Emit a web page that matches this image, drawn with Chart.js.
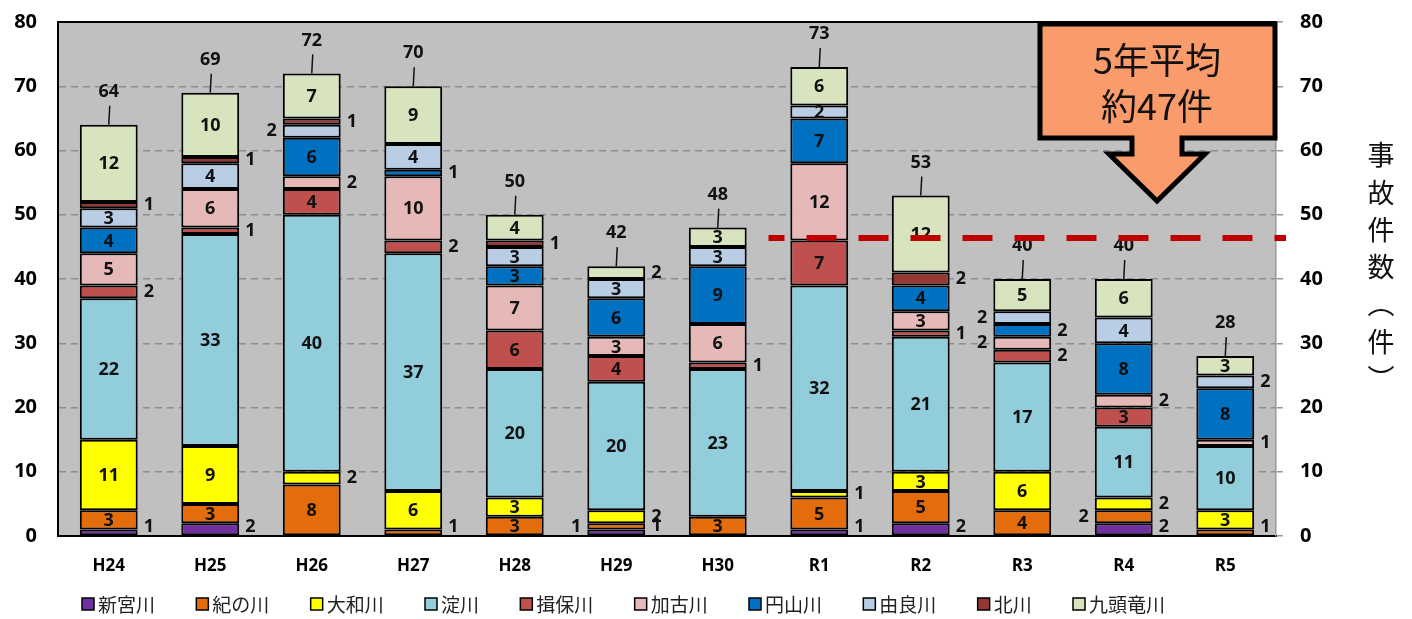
<!DOCTYPE html>
<html lang="ja">
<head>
<meta charset="utf-8">
<title>事故件数</title>
<script src="https://cdn.jsdelivr.net/npm/chart.js@4.4.1/dist/chart.umd.min.js"></script>
<style>
  html, body { margin: 0; padding: 0; background: #fff; }
  #wrap { width: 1412px; height: 619px; position: relative; }
</style>
</head>
<body>
<div id="wrap"><canvas id="accidentChart"></canvas></div>
<script>
// Anni (categorie)
const categories = ['H24', 'H25', 'H26', 'H27', 'H28', 'H29', 'H30', 'R1', 'R2', 'R3', 'R4', 'R5'];

// Valori per fiume (dal basso verso l'alto)
const shingu   = [1, 2, 0, 0, 0, 1, 0, 1, 2, 0, 2, 0];
const kinokawa = [3, 3, 8, 1, 3, 1, 3, 5, 5, 4, 2, 1];
const yamato   = [11, 9, 2, 6, 3, 2, 0, 1, 3, 6, 2, 3];
const yodo     = [22, 33, 40, 37, 20, 20, 23, 32, 21, 17, 11, 10];
const ibo      = [2, 1, 4, 2, 6, 4, 1, 7, 1, 2, 3, 0];
const kako     = [5, 6, 2, 10, 7, 3, 6, 12, 3, 2, 2, 1];
const maruyama = [4, 0, 6, 1, 3, 6, 9, 7, 4, 2, 8, 8];
const yura     = [3, 4, 2, 4, 3, 3, 3, 2, 0, 2, 4, 2];
const kita     = [1, 1, 1, 0, 1, 0, 0, 0, 2, 0, 0, 0];
const kuzuryu  = [12, 10, 7, 9, 4, 2, 3, 6, 12, 5, 6, 3];

// Totali sopra le barre
const totals = [64, 69, 72, 70, 50, 42, 48, 73, 53, 40, 40, 28];

// Media degli ultimi 5 anni (linea rossa)
const avgValue = 46.4;
const avgText = ['5年平均', '約47件'];

// Assi
const yTicks = [0, 10, 20, 30, 40, 50, 60, 70, 80];
const axisTitle = ['事', '故', '件', '数', '︵', '件', '︶'];

// Etichette piccole messe a sinistra / dentro la barra: [categoria, serie]
const leftLabels = [[2, 7], [5, 0], [9, 5], [9, 7], [10, 1]];
const insideLabels = [[7, 7]];

const series = [
  { name: '新宮川', values: shingu, color: '#7030a0' },
  { name: '紀の川', values: kinokawa, color: '#e46c0a' },
  { name: '大和川', values: yamato, color: '#ffff00' },
  { name: '淀川', values: yodo, color: '#92cddc' },
  { name: '揖保川', values: ibo, color: '#c0504d' },
  { name: '加古川', values: kako, color: '#e6b9b8' },
  { name: '円山川', values: maruyama, color: '#0070c0' },
  { name: '由良川', values: yura, color: '#b9cde5' },
  { name: '北川', values: kita, color: '#953735' },
  { name: '九頭竜川', values: kuzuryu, color: '#d7e4bd' }
];

const NUM_FONT = '"Open Sans", "Liberation Sans", sans-serif';
const JP_FONT = '"Noto Sans CJK JP", sans-serif';

function inList(list, c, d) {
  return list.some(p => p[0] === c && p[1] === d);
}

// niente spazio extra sopra/sotto per gli assi verticali
function fitVertical(width) {
  return (s) => {
    s.width = width;
    s.paddingTop = 0;
    s.paddingBottom = 0;
  };
}

// Sfondo grigio dell'area del grafico + bordo superiore
const areaBg = {
  id: 'areaBg',
  beforeDraw(chart) {
    const a = chart.chartArea, ctx = chart.ctx;
    ctx.save();
    ctx.fillStyle = '#c0c0c0';
    ctx.fillRect(a.left, a.top, a.right - a.left, a.bottom - a.top);
    ctx.restore();
  },
  beforeDatasetsDraw(chart) {
    const a = chart.chartArea, ctx = chart.ctx;
    ctx.save();
    ctx.strokeStyle = '#000';
    ctx.lineWidth = 2;
    ctx.beginPath();
    ctx.moveTo(a.left, a.top);
    ctx.lineTo(a.right, a.top);
    ctx.stroke();
    ctx.restore();
  }
};

// Etichette dei valori e totali
const segLabels = {
  id: 'segLabels',
  afterDatasetsDraw(chart) {
    const ctx = chart.ctx, a = chart.chartArea;
    const xs = chart.scales.x, ys = chart.scales.y;
    ctx.save();
    ctx.font = 'bold 18px ' + NUM_FONT;
    ctx.fillStyle = '#111';
    ctx.textBaseline = 'middle';
    chart.data.datasets.forEach((ds, d) => {
      const meta = chart.getDatasetMeta(d);
      meta.data.forEach((bar, c) => {
        const v = ds.data[c];
        if (!v) return;
        const top = Math.min(bar.y, bar.base), bottom = Math.max(bar.y, bar.base);
        const y = Math.min((top + bottom) / 2, a.bottom - 9);
        const half = bar.width / 2;
        if (v >= 3 || inList(insideLabels, c, d)) {
          ctx.textAlign = 'center';
          ctx.fillText(v, bar.x, (top + bottom) / 2 + 1);
        } else if (inList(leftLabels, c, d)) {
          ctx.textAlign = 'right';
          ctx.fillText(v, bar.x - half - 6, y);
        } else {
          ctx.textAlign = 'left';
          ctx.fillText(v, bar.x + half + 6, y);
        }
      });
    });
    // totali con piccola linea
    ctx.strokeStyle = '#111';
    ctx.lineWidth = 1.5;
    ctx.textAlign = 'center';
    totals.forEach((t, c) => {
      const x = xs.getPixelForValue(c);
      const y = ys.getPixelForValue(t);
      ctx.beginPath();
      ctx.moveTo(x, y);
      ctx.lineTo(x + 1, y - 19);
      ctx.stroke();
      ctx.fillText(t, x, y - 33);
    });
    ctx.restore();
  }
};

// Linea media + riquadro con freccia
const avgCallout = {
  id: 'avgCallout',
  afterDatasetsDraw(chart) {
    const ctx = chart.ctx, a = chart.chartArea;
    const xs = chart.scales.x, ys = chart.scales.y;
    ctx.save();
    const y = ys.getPixelForValue(avgValue);
    ctx.strokeStyle = '#c00000';
    ctx.lineWidth = 6;
    ctx.setLineDash([30, 22]);
    ctx.lineDashOffset = 14;
    ctx.beginPath();
    ctx.moveTo(xs.getPixelForValue(6.5), y);
    ctx.lineTo(a.right + 10, y);
    ctx.stroke();
    ctx.setLineDash([]);

    // riquadro arancione
    const r = a.right - 1, l = r - 235, t = a.top + 2, b = t + 114;
    const cx = l + 117, sw = 25, hw = 48, sb = b + 16, tip = b + 63;
    ctx.beginPath();
    ctx.moveTo(l, t);
    ctx.lineTo(r, t);
    ctx.lineTo(r, b);
    ctx.lineTo(cx + sw, b);
    ctx.lineTo(cx + sw, sb);
    ctx.lineTo(cx + hw, sb);
    ctx.lineTo(cx, tip);
    ctx.lineTo(cx - hw, sb);
    ctx.lineTo(cx - sw, sb);
    ctx.lineTo(cx - sw, b);
    ctx.lineTo(l, b);
    ctx.closePath();
    ctx.fillStyle = '#fa9b6b';
    ctx.fill();
    ctx.lineJoin = 'miter';
    ctx.lineWidth = 5;
    ctx.strokeStyle = '#000';
    ctx.stroke();
    ctx.fillStyle = '#111';
    ctx.font = '36px ' + JP_FONT;
    ctx.textAlign = 'center';
    ctx.textBaseline = 'middle';
    ctx.fillText(avgText[0], cx, t + 36);
    ctx.fillText(avgText[1], cx, t + 82);
    ctx.restore();
  }
};

// Titolo verticale a destra e legenda in basso
const extras = {
  id: 'extras',
  afterDraw(chart) {
    const ctx = chart.ctx;
    ctx.save();
    ctx.fillStyle = '#111';
    ctx.font = '27px ' + JP_FONT;
    ctx.textAlign = 'center';
    ctx.textBaseline = 'middle';
    axisTitle.forEach((ch, i) => ctx.fillText(ch, 1381, 155 + i * 37.3));

    // legenda
    ctx.font = '19px ' + JP_FONT;
    const box = 12, gapBox = 4, startX = 82, endX = 1165, ly = 604;
    const widths = series.map(s => box + gapBox + ctx.measureText(s.name).width);
    const used = widths.reduce((p, w) => p + w, 0);
    const gap = (endX - startX - used) / (series.length - 1);
    let x = startX;
    ctx.textAlign = 'left';
    series.forEach((s, i) => {
      ctx.fillStyle = s.color;
      ctx.fillRect(x, ly - box / 2, box, box);
      ctx.strokeStyle = '#000';
      ctx.lineWidth = 1.5;
      ctx.strokeRect(x, ly - box / 2, box, box);
      ctx.fillStyle = '#222';
      ctx.fillText(s.name, x + box + gapBox, ly + 1);
      x += widths[i] + gap;
    });
    ctx.restore();
  }
};

const ctx = document.getElementById('accidentChart').getContext('2d');
const accidentChart = new Chart(ctx, {
  type: 'bar',
  data: {
    labels: categories,
    datasets: series.map(s => ({
      label: s.name,
      data: s.values.map(v => (v === 0 ? null : v)),
      backgroundColor: s.color,
      borderColor: '#000',
      borderWidth: 2,
      borderSkipped: false,
      categoryPercentage: 0.57,
      barPercentage: 1
    }))
  },
  options: {
    responsive: true,
    maintainAspectRatio: false,
    animation: false,
    layout: { padding: { top: 22, left: 0, right: 0, bottom: 0 } },
    plugins: {
      legend: { display: false },
      tooltip: { enabled: false }
    },
    scales: {
      x: {
        stacked: true,
        grid: { display: false },
        border: { color: '#000', width: 2 },
        ticks: { color: '#000', font: { family: NUM_FONT, size: 17, weight: 'bold' }, padding: 12 },
        afterFit: (s) => { s.height = 83; }
      },
      y: {
        stacked: true,
        position: 'left',
        min: 0,
        max: 80,
        afterBuildTicks: (s) => { s.ticks = yTicks.map(v => ({ value: v })); },
        grid: { color: '#8e8e8e', lineWidth: 1.5, drawTicks: false },
        border: { color: '#000', width: 2, dash: [7, 5] },
        ticks: { color: '#000', font: { family: NUM_FONT, size: 20, weight: 'bold' }, padding: 21 },
        afterFit: fitVertical(58)
      },
      y2: {
        position: 'right',
        min: 0,
        max: 80,
        afterBuildTicks: (s) => { s.ticks = yTicks.map(v => ({ value: v })); },
        grid: { drawOnChartArea: false, drawTicks: true, tickLength: 7, color: '#999', lineWidth: 1.5 },
        border: { color: '#999', width: 1.5 },
        ticks: { color: '#000', font: { family: NUM_FONT, size: 20, weight: 'bold' }, padding: 17 },
        afterFit: fitVertical(136)
      }
    }
  },
  plugins: [areaBg, segLabels, avgCallout, extras]
});
</script>
</body>
</html>
